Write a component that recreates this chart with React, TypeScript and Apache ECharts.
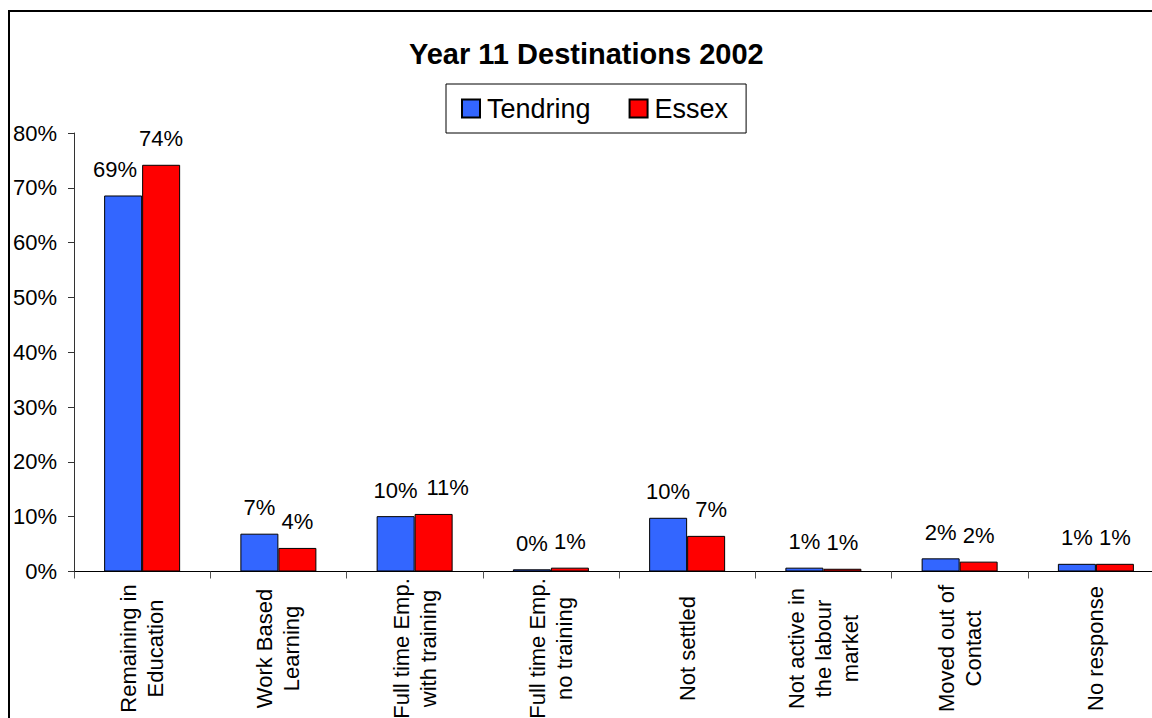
import React, { useEffect, useRef } from "react";
import * as echarts from "echarts";

const categories = [
  "Remaining in\nEducation",
  "Work Based\nLearning",
  "Full time Emp.\nwith training",
  "Full time Emp.\nno training",
  "Not settled",
  "Not active in\nthe labour\nmarket",
  "Moved out of\nContact",
  "No response",
];
const tendring = [68.6, 6.9, 10.1, 0.4, 9.8, 0.7, 2.4, 1.4];
const essex = [74.2, 4.3, 10.5, 0.7, 6.5, 0.5, 1.8, 1.4];
const yTicks = { min: 0, max: 80, interval: 10 };

const FONT = "'Liberation Sans', Arial, sans-serif";

// label nudges that mimic the reference's overlap avoidance
const tendringLabelOffsets: Record<number, number[]> = { 0: [-8, 0] };
const essexLabelOffsets: Record<number, number[]> = { 2: [14, 0], 4: [5, 0] };

export default function App() {
  const ref = useRef<HTMLDivElement>(null);
  useEffect(() => {
    if (!ref.current) return;
    const chart = echarts.init(ref.current, undefined, { renderer: "svg" });
    const labelCfg = {
      show: true,
      position: "top",
      distance: 15,
      color: "#000",
      fontSize: 22,
      fontFamily: FONT,
      formatter: (p: any) => Math.round(p.value) + "%",
    };
    const withOffsets = (vals: number[], offs: Record<number, number[]>) =>
      vals.map((v, i) => (offs[i] ? { value: v, label: { offset: offs[i] } } : v));
    chart.setOption({
      animation: false,
      backgroundColor: "#fff",
      textStyle: { fontFamily: FONT },
      title: {
        text: "Year 11 Destinations 2002",
        left: 409,
        top: 39,
        padding: 0,
        textStyle: { fontSize: 29, fontWeight: "bold", color: "#000", fontFamily: FONT },
      },
      legend: {
        left: 446,
        top: 84,
        orient: "horizontal",
        borderColor: "#000",
        borderWidth: 1,
        padding: [11, 18, 11, 15],
        itemWidth: 18,
        itemHeight: 18,
        itemGap: 38,
        icon: "rect",
        textStyle: { fontSize: 27, color: "#000", fontFamily: FONT, padding: [0, 0, 0, 2] },
        data: ["Tendring", "Essex"],
      },
      graphic: [
        {
          type: "rect",
          shape: { x: 9, y: 11, width: 1300, height: 900 },
          style: { fill: "none", stroke: "#000", lineWidth: 2 },
          silent: true,
          z: 100,
        },
      ],
      grid: {
        left: 74,
        right: -12,
        top: 133,
        bottom: 146.5,
        containLabel: false,
        outerBoundsMode: "none",
      },
      xAxis: {
        type: "category",
        data: categories,
        axisLine: { lineStyle: { color: "#000", width: 1 } },
        axisTick: { show: true, length: 7, lineStyle: { color: "#555" } },
        axisLabel: {
          interval: 0,
          rotate: 90,
          align: "center",
          verticalAlign: "middle",
          margin: 77,
          fontSize: 22,
          lineHeight: 27,
          color: "#000",
          fontFamily: FONT,
        },
      },
      yAxis: {
        type: "value",
        min: yTicks.min,
        max: yTicks.max,
        interval: yTicks.interval,
        splitLine: { show: false },
        axisLine: { show: true, lineStyle: { color: "#333", width: 1 } },
        axisTick: { show: true, length: 6, lineStyle: { color: "#333" } },
        axisLabel: {
          formatter: "{value}%",
          fontSize: 22,
          color: "#000",
          margin: 17,
          fontFamily: FONT,
        },
      },
      series: [
        {
          name: "Tendring",
          type: "bar",
          data: withOffsets(tendring, tendringLabelOffsets),
          barWidth: 38,
          barGap: "0%",
          itemStyle: { color: "#3366FF", borderColor: "#000", borderWidth: 1 },
          label: labelCfg,
        },
        {
          name: "Essex",
          type: "bar",
          data: withOffsets(essex, essexLabelOffsets),
          barWidth: 38,
          barGap: "0%",
          itemStyle: { color: "#FF0000", borderColor: "#000", borderWidth: 1 },
          label: labelCfg,
        },
      ],
    });
    return () => chart.dispose();
  }, []);
  return (
    <div
      ref={ref}
      style={{ position: "absolute", left: 0, top: 0, width: 1152, height: 718 }}
    />
  );
}
